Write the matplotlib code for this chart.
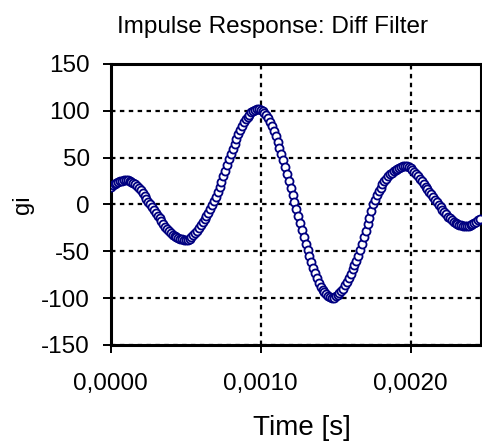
import numpy as np
import matplotlib
matplotlib.use("Agg")
import matplotlib.pyplot as plt
from matplotlib.ticker import FuncFormatter, MultipleLocator

plt.rcParams['font.family'] = ['Liberation Sans', 'DejaVu Sans']

# sample rate of the filter (Hz) and the impulse response values
fs = 80000
gi = [19,
      20.6, 22, 23.1, 24,
      24.8, 25.5, 26, 26,
      25.6, 25, 24.1, 23,
      21.4, 19.6, 17.4, 15,
      12.2, 9.2, 6.1, 3,
      0, -3, -6, -9,
      -12, -15, -18, -21,
      -23.8, -26.4, -28.8, -31,
      -32.6, -34, -35.1, -36,
      -36.8, -37.4, -37.8, -38,
      -37.8, -36.8, -35.2, -33,
      -30.6, -28, -25.1, -22,
      -18.8, -15.6, -12.3, -9,
      -5, -0.8, 3.5, 8,
      13.2, 18.6, 24.2, 30,
      36, 42, 48, 54,
      59.6, 65, 70.2, 75,
      79.5, 83.8, 87.6, 91,
      93.6, 96, 98.2, 100,
      101, 101.7, 101.8, 101,
      99.8, 98, 95.4, 92,
      88, 83.5, 78.5, 73,
      66.8, 60.3, 53.7, 47,
      39.8, 32.5, 25.2, 18,
      10.5, 3, -4.5, -12,
      -19.5, -27, -34.5, -42,
      -48.8, -55.4, -61.8, -68,
      -73.5, -78.8, -83.6, -88,
      -91.2, -94, -96.2, -98,
      -99.2, -99.8, -99.5, -98,
      -96.5, -94.8, -92.6, -90,
      -86.6, -82.6, -78.4, -74,
      -69.5, -64.8, -60, -55,
      -48.5, -41.8, -35, -28,
      -21, -14, -7, 0,
      5, 9.8, 14.2, 18,
      21.4, 24.6, 27.4, 30,
      32, 33.9, 35.5, 37,
      38.2, 39.3, 40.2, 41,
      41.5, 41.3, 40.4, 39,
      37.2, 35, 32.6, 30,
      27.3, 24.6, 21.8, 19,
      16.2, 13.4, 10.7, 8,
      5.2, 2.4, -0.3, -3,
      -5.6, -8.2, -10.7, -13,
      -15, -16.9, -18.6, -20,
      -21, -21.9, -22.5, -23,
      -23.4, -23.4, -22.9, -22,
      -21, -19.8, -18.4, -17,
      -16]
t = np.arange(len(gi)) / fs

fig = plt.figure(figsize=(4.82, 4.41), dpi=100)
ax = fig.add_axes([0.230, 0.218, 0.768, 0.637])

ax.plot(t, gi, linestyle='none', marker='o', markersize=5.8,
        markerfacecolor='white', markeredgecolor='#000080',
        markeredgewidth=1.3, zorder=3)

ax.set_xlim(0, 0.00247)
ax.set_ylim(-150, 150)
ax.xaxis.set_major_locator(MultipleLocator(0.001))
ax.yaxis.set_major_locator(MultipleLocator(50))
ax.xaxis.set_major_formatter(FuncFormatter(lambda v, p: f"{v:.4f}".replace('.', ',')))
ax.yaxis.set_major_formatter(FuncFormatter(lambda v, p: f"{v:.0f}"))

ax.grid(True, color='black', linestyle=(0, (2, 2)), linewidth=1.6)
for s in ax.spines.values():
    s.set_linewidth(2.2)
ax.tick_params(direction='out', length=6, width=1.4, labelsize=17.5, pad=9)
ax.tick_params(axis='x', pad=14)

ax.set_title('Impulse Response: Diff Filter', fontsize=17.5, pad=22.5, x=0.438)
ax.set_xlabel('Time [s]', fontsize=20, labelpad=15, x=0.516)
ax.set_ylabel('gi', fontsize=17, labelpad=5)

fig.savefig('out.png', dpi=100)
